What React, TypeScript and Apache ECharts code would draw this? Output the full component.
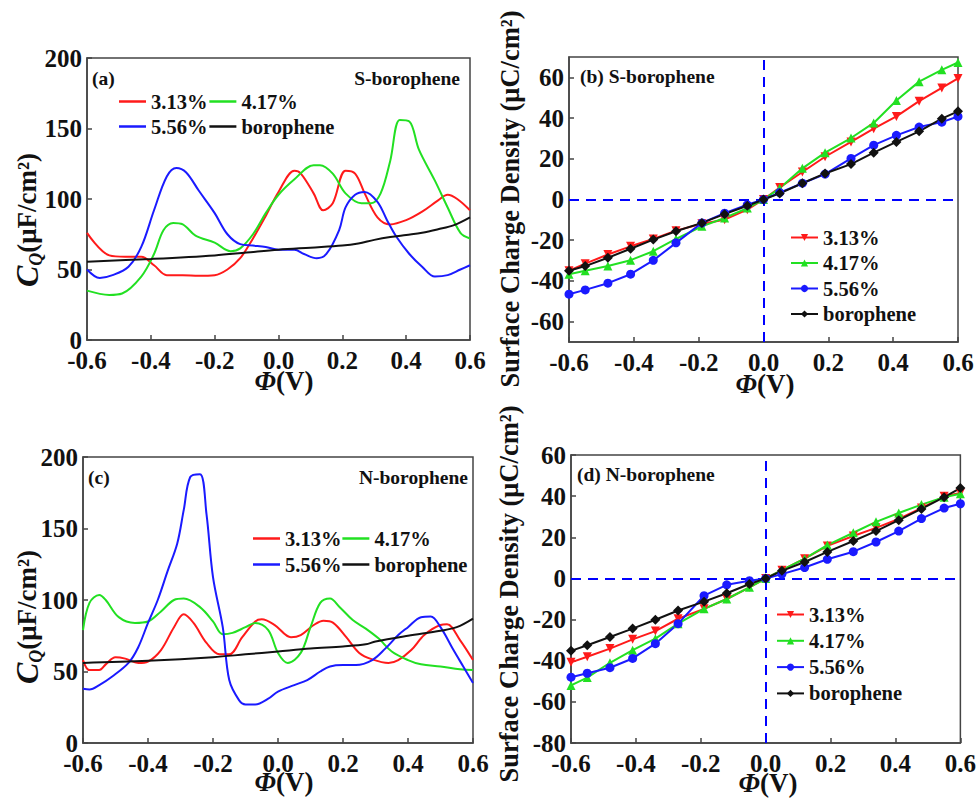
import React, { useEffect, useRef } from "react";
import * as echarts from "echarts";

// ---------- data ----------
// (a) S-borophene, quantum capacitance
const aRed = [[-0.6,76],[-0.53,60],[-0.48,59],[-0.43,59],[-0.39,53],[-0.35,46],[-0.3,46],[-0.25,45.5],[-0.2,46],[-0.16,50],[-0.12,58],[-0.08,72],[-0.04,88],[0,105],[0.05,120],[0.07,118],[0.11,104],[0.14,92],[0.17,97],[0.21,120],[0.24,118],[0.27,104],[0.31,87],[0.35,82],[0.4,85],[0.45,91],[0.5,99],[0.53,103],[0.56,100],[0.6,92]];
const aGreen = [[-0.6,35],[-0.53,32],[-0.49,33],[-0.43,45],[-0.39,61],[-0.36,78],[-0.33,83],[-0.3,82],[-0.26,74],[-0.2,69],[-0.15,63],[-0.12,65],[-0.08,75],[-0.04,90],[0,103],[0.05,114],[0.11,124],[0.13,124],[0.17,118],[0.21,104],[0.26,97],[0.29,97],[0.32,104],[0.35,127],[0.38,156],[0.41,155],[0.44,135],[0.49,113],[0.53,94],[0.57,76],[0.6,72]];
const aBlue = [[-0.6,50],[-0.56,44],[-0.52,46],[-0.47,52],[-0.43,66],[-0.39,92],[-0.35,116],[-0.32,122],[-0.29,119],[-0.25,106],[-0.2,90],[-0.16,75],[-0.12,68],[-0.08,67],[-0.04,66],[0,64],[0.05,64],[0.08,61],[0.12,58],[0.15,61],[0.19,78],[0.21,94],[0.24,103],[0.27,105],[0.31,98],[0.34,85],[0.37,73],[0.41,61],[0.45,52],[0.49,45],[0.53,46],[0.57,50],[0.6,53]];
const aBlack = [[-0.6,55.5],[-0.4,57.5],[-0.2,60],[-0.1,62],[0,64],[0.1,65.5],[0.2,67],[0.25,68.5],[0.3,71],[0.35,73],[0.4,74.5],[0.45,76],[0.5,78.5],[0.55,81.5],[0.6,87]];

// (c) N-borophene, quantum capacitance
const cRed = [[-0.6,58],[-0.58,51],[-0.55,51],[-0.53,55],[-0.5,60],[-0.47,59],[-0.43,56],[-0.4,57],[-0.36,65],[-0.32,81],[-0.29,90],[-0.26,84],[-0.22,70],[-0.18,62],[-0.15,62],[-0.11,74],[-0.07,85],[-0.05,86.5],[-0.01,82.5],[0.04,74],[0.07,75.5],[0.11,82.5],[0.14,85.5],[0.17,84],[0.21,74],[0.25,63],[0.29,58.5],[0.34,56],[0.37,58],[0.41,65],[0.45,75.5],[0.5,82.5],[0.52,83],[0.56,72],[0.6,58]];
const cGreen = [[-0.6,79],[-0.58,98],[-0.55,103.5],[-0.53,100],[-0.49,88],[-0.44,84],[-0.4,85],[-0.36,92],[-0.32,100],[-0.29,101],[-0.24,95],[-0.2,85],[-0.17,76],[-0.14,77],[-0.1,81],[-0.07,84],[-0.03,79],[0,63],[0.03,56],[0.07,63],[0.1,81],[0.13,98],[0.16,101],[0.19,95],[0.23,86],[0.27,80],[0.31,73],[0.35,64],[0.4,58],[0.44,55],[0.5,53.5],[0.56,51.5],[0.6,51]];
const cBlue = [[-0.6,38],[-0.58,37.5],[-0.55,40.5],[-0.51,46.5],[-0.46,56],[-0.43,67],[-0.4,84],[-0.37,100],[-0.34,120],[-0.31,139.5],[-0.29,163],[-0.27,186],[-0.24,188],[-0.22,160],[-0.2,116],[-0.17,81],[-0.15,44],[-0.12,30],[-0.1,27],[-0.07,27],[-0.03,31],[0,36],[0.05,40.5],[0.09,44],[0.13,50],[0.16,53.5],[0.2,54.5],[0.24,54.5],[0.29,58],[0.33,66],[0.37,75.5],[0.4,81],[0.44,88],[0.47,88.5],[0.5,81],[0.54,65],[0.57,53.5],[0.6,42]];
const cBlack = [[-0.6,56],[-0.4,57.5],[-0.2,60],[-0.1,62],[0,64],[0.1,66],[0.2,67.5],[0.27,69],[0.3,71],[0.4,75],[0.5,78.5],[0.55,81],[0.6,87]];

// (b),(d) surface charge density, sampled potentials
const qX = [-0.6,-0.55,-0.48,-0.41,-0.34,-0.27,-0.19,-0.12,-0.05,0,0.05,0.12,0.19,0.27,0.34,0.41,0.48,0.55,0.6];
const bRed = [-35,-31.5,-27,-23,-19.4,-15.3,-11.9,-9.9,-5,0,5.9,13.5,21,28.3,34.8,40.8,48.3,54.8,59.5];
const bGreen = [-36.7,-35,-32.7,-29.8,-25.4,-19.4,-13.2,-9.1,-4.2,0,5.5,15.3,23,30.2,37.6,48.6,57.9,63.7,67.3];
const bBlue = [-46.5,-44.4,-41.1,-36.7,-29.9,-21.3,-11.5,-6.7,-2.6,0,3.4,8,12.5,20.2,26.7,31.5,35.6,38,40.8];
const bBlack = [-35,-32.7,-28.6,-24.2,-19.7,-15.6,-11.5,-7.2,-3.1,0,3,8,12.8,17.4,23,28.3,33.5,39.7,43.3];
const dRed = [-40.8,-38.1,-34.1,-29.6,-25.6,-19.6,-14.8,-10,-4.3,0,4,9.6,15.8,20.6,24.6,28.9,34.2,39.9,41.5];
const dGreen = [-52,-48.2,-41,-34.9,-29.3,-22,-14.8,-10,-4.3,0,4,9.6,16.2,22.2,27.5,31.8,35.9,39.5,41.2];
const dBlue = [-48,-46.1,-43.4,-38.9,-31.7,-22,-8.4,-3.1,-1.1,0,2.1,5.3,9.3,13,17.7,23,29.1,34.2,36.3];
const dBlack = [-35.2,-32.5,-28.5,-24.4,-20.1,-15.6,-11.3,-7.2,-2.7,0,3.7,8,12.9,18.2,23,28.3,33.8,39.5,43.9];

const seriesNames = ["3.13%", "4.17%", "5.56%", "borophene"];
const bTicks = [-60, -40, -20, 0, 20, 40, 60];

// ---------- style ----------
const FONT = '"Liberation Serif", "Times New Roman", serif';
const RED = "#ff1a1a";
const GREEN = "#22e022";
const BLUE = "#1a1aff";
const BLACK = "#111111";
const COLORS = [RED, GREEN, BLUE, BLACK];
const AX = "#444444";

const tickLabel = { fontFamily: FONT, fontWeight: "bold" as const, fontSize: 25, color: "#111" };

function xAxisFor(gi: number) {
  return {
    type: "value", gridIndex: gi, min: -0.6, max: 0.6, interval: 0.2,
    axisLine: { onZero: false, lineStyle: { color: AX, width: 1.5 } },
    axisTick: { inside: true, length: 5, lineStyle: { color: AX, width: 1.5 } },
    axisLabel: { ...tickLabel, margin: 8, formatter: (v: number) => v.toFixed(1) },
    splitLine: { show: false },
  };
}

function yAxisFor(gi: number, min: number, max: number, interval: number, custom?: number[]) {
  const ax: any = {
    type: "value", gridIndex: gi, min, max, interval,
    axisLine: { show: true, onZero: false, lineStyle: { color: AX, width: 1.5 } },
    axisTick: { show: true, inside: true, length: 5, lineStyle: { color: AX, width: 1.5 } },
    axisLabel: { ...tickLabel, margin: 5 },
    splitLine: { show: false },
  };
  if (custom) {
    ax.axisTick.customValues = custom;
    ax.axisLabel.customValues = custom;
  }
  return ax;
}

function smoothSeries(panel: string, i: number, data: number[][], gi: number) {
  return {
    type: "line", name: panel + "|" + seriesNames[i], xAxisIndex: gi, yAxisIndex: gi,
    data, smooth: 0.35, symbol: "none",
    lineStyle: { color: COLORS[i], width: 2 }, itemStyle: { color: COLORS[i] },
  };
}

const SYMS = ["triangle", "triangle", "circle", "diamond"];
const SYM_ROT = [180, 0, 0, 0];
const SYM_SIZE = [9, 9, 9, 10];

function markerSeries(panel: string, i: number, ys: number[], gi: number, withMark: boolean) {
  const s: any = {
    type: "line", name: panel + "|" + seriesNames[i], xAxisIndex: gi, yAxisIndex: gi,
    data: qX.map((x, k) => [x, ys[k]]),
    symbol: SYMS[i], symbolRotate: SYM_ROT[i], symbolSize: SYM_SIZE[i], showSymbol: true,
    lineStyle: { color: COLORS[i], width: 2 }, itemStyle: { color: COLORS[i] },
  };
  if (withMark) {
    s.markLine = {
      silent: true, symbol: "none", label: { show: false },
      lineStyle: { color: "#0000ff", width: 2, type: [10, 7] },
      data: [{ xAxis: 0 }, { yAxis: 0 }],
      z: 1,
    };
  }
  return s;
}

const legendText = { fontFamily: FONT, fontWeight: "bold" as const, fontSize: 20.5, color: "#111" };
const fmt = (name: string) => name.split("|")[1];

function legend(panel: string, idx: number[], left: number, top: number, orient: string, itemGap: number, lineOnly: boolean) {
  const lg: any = {
    orient, left, top, itemGap, itemWidth: 27, itemHeight: lineOnly ? 2.5 : 9,
    selectedMode: false, formatter: fmt, textStyle: legendText, padding: 0,
    data: idx.map((i) => panel + "|" + seriesNames[i]),
  };
  if (lineOnly) lg.icon = "rect";
  return lg;
}

function txt(text: string, x: number, y: number, align: string = "left") {
  return {
    type: "text", x, y,
    style: { text, fill: "#111", font: `bold 19.5px ${FONT}`, align, verticalAlign: "middle" },
  };
}

function phiName(x: number, y: number) {
  return {
    type: "text", x, y,
    style: {
      text: "{p|Φ}{v|(V)}", align: "center", verticalAlign: "middle",
      rich: {
        p: { fontFamily: FONT, fontWeight: "bold", fontStyle: "italic", fontSize: 27, fill: "#111" },
        v: { fontFamily: FONT, fontWeight: "bold", fontSize: 27, fill: "#111" },
      },
    },
  };
}

function cqName(x: number, y: number) {
  return {
    type: "text", x, y, rotation: Math.PI / 2,
    style: {
      text: "{c|C}{q|Q}{n|(μF/cm²)}", align: "center", verticalAlign: "middle",
      rich: {
        c: { fontFamily: FONT, fontWeight: "bold", fontStyle: "italic", fontSize: 32, fill: "#111", lineHeight: 36, verticalAlign: "middle" },
        q: { fontFamily: FONT, fontWeight: "bold", fontStyle: "italic", fontSize: 18, fill: "#111", lineHeight: 36, verticalAlign: "bottom" },
        n: { fontFamily: FONT, fontWeight: "bold", fontSize: 27, fill: "#111", lineHeight: 36, verticalAlign: "middle" },
      },
    },
  };
}

function scdName(x: number, y: number) {
  return {
    type: "text", x, y, rotation: Math.PI / 2,
    style: {
      text: "Surface Charge Density (μC/cm²)", fill: "#111",
      font: `bold 26.5px ${FONT}`, align: "center", verticalAlign: "middle",
    },
  };
}

export default function App() {
  const ref = useRef<HTMLDivElement>(null);
  useEffect(() => {
    if (!ref.current) return;
    const chart = echarts.init(ref.current, null, { renderer: "svg" });
    const gridBase = { show: true, borderColor: AX, borderWidth: 1.5, backgroundColor: "transparent", containLabel: false };
    const option: any = {
      animation: false,
      backgroundColor: "#ffffff",
      grid: [
        { ...gridBase, left: 87, top: 58, width: 383, height: 282 },
        { ...gridBase, left: 569, top: 57, width: 389, height: 285 },
        { ...gridBase, left: 83, top: 457, width: 390, height: 286 },
        { ...gridBase, left: 571, top: 455, width: 391, height: 288 },
      ],
      xAxis: [xAxisFor(0), xAxisFor(1), xAxisFor(2), xAxisFor(3)],
      yAxis: [
        yAxisFor(0, 0, 200, 50),
        yAxisFor(1, -70, 70, 10, bTicks),
        yAxisFor(2, 0, 200, 50),
        yAxisFor(3, -80, 60, 20),
      ],
      legend: [
        legend("a", [0, 1], 119, 91, "horizontal", 2, true),
        legend("a", [2, 3], 119, 116, "horizontal", 2, true),
        legend("b", [0, 1, 2, 3], 790, 227, "vertical", 4.5, false),
        legend("c", [0, 1], 253, 528, "horizontal", 1, true),
        legend("c", [2, 3], 253, 554, "horizontal", 1, true),
        legend("d", [0, 1, 2, 3], 776, 604, "vertical", 5.3, false),
      ],
      series: [
        smoothSeries("a", 0, aRed, 0),
        smoothSeries("a", 1, aGreen, 0),
        smoothSeries("a", 2, aBlue, 0),
        smoothSeries("a", 3, aBlack, 0),
        markerSeries("b", 0, bRed, 1, true),
        markerSeries("b", 1, bGreen, 1, false),
        markerSeries("b", 2, bBlue, 1, false),
        markerSeries("b", 3, bBlack, 1, false),
        smoothSeries("c", 0, cRed, 2),
        smoothSeries("c", 1, cGreen, 2),
        smoothSeries("c", 2, cBlue, 2),
        smoothSeries("c", 3, cBlack, 2),
        markerSeries("d", 0, dRed, 3, true),
        markerSeries("d", 1, dGreen, 3, false),
        markerSeries("d", 2, dBlue, 3, false),
        markerSeries("d", 3, dBlack, 3, false),
      ],
      graphic: [
        txt("(a)", 92, 78),
        txt("S-borophene", 460, 78, "right"),
        txt("(b) S-borophene", 580, 76),
        txt("(c)", 88, 477),
        txt("N-borophene", 468, 477, "right"),
        txt("(d) N-borophene", 577, 474),
        phiName(284, 381),
        phiName(765, 384),
        phiName(284, 782),
        phiName(768, 783),
        cqName(27, 220),
        cqName(27, 617),
        scdName(510, 199),
        scdName(509, 594),
      ],
    };
    chart.setOption(option);
    return () => chart.dispose();
  }, []);
  return (
    <div
      ref={ref}
      style={{ position: "absolute", left: 0, top: 0, width: 979, height: 798, background: "#fff" }}
    />
  );
}
